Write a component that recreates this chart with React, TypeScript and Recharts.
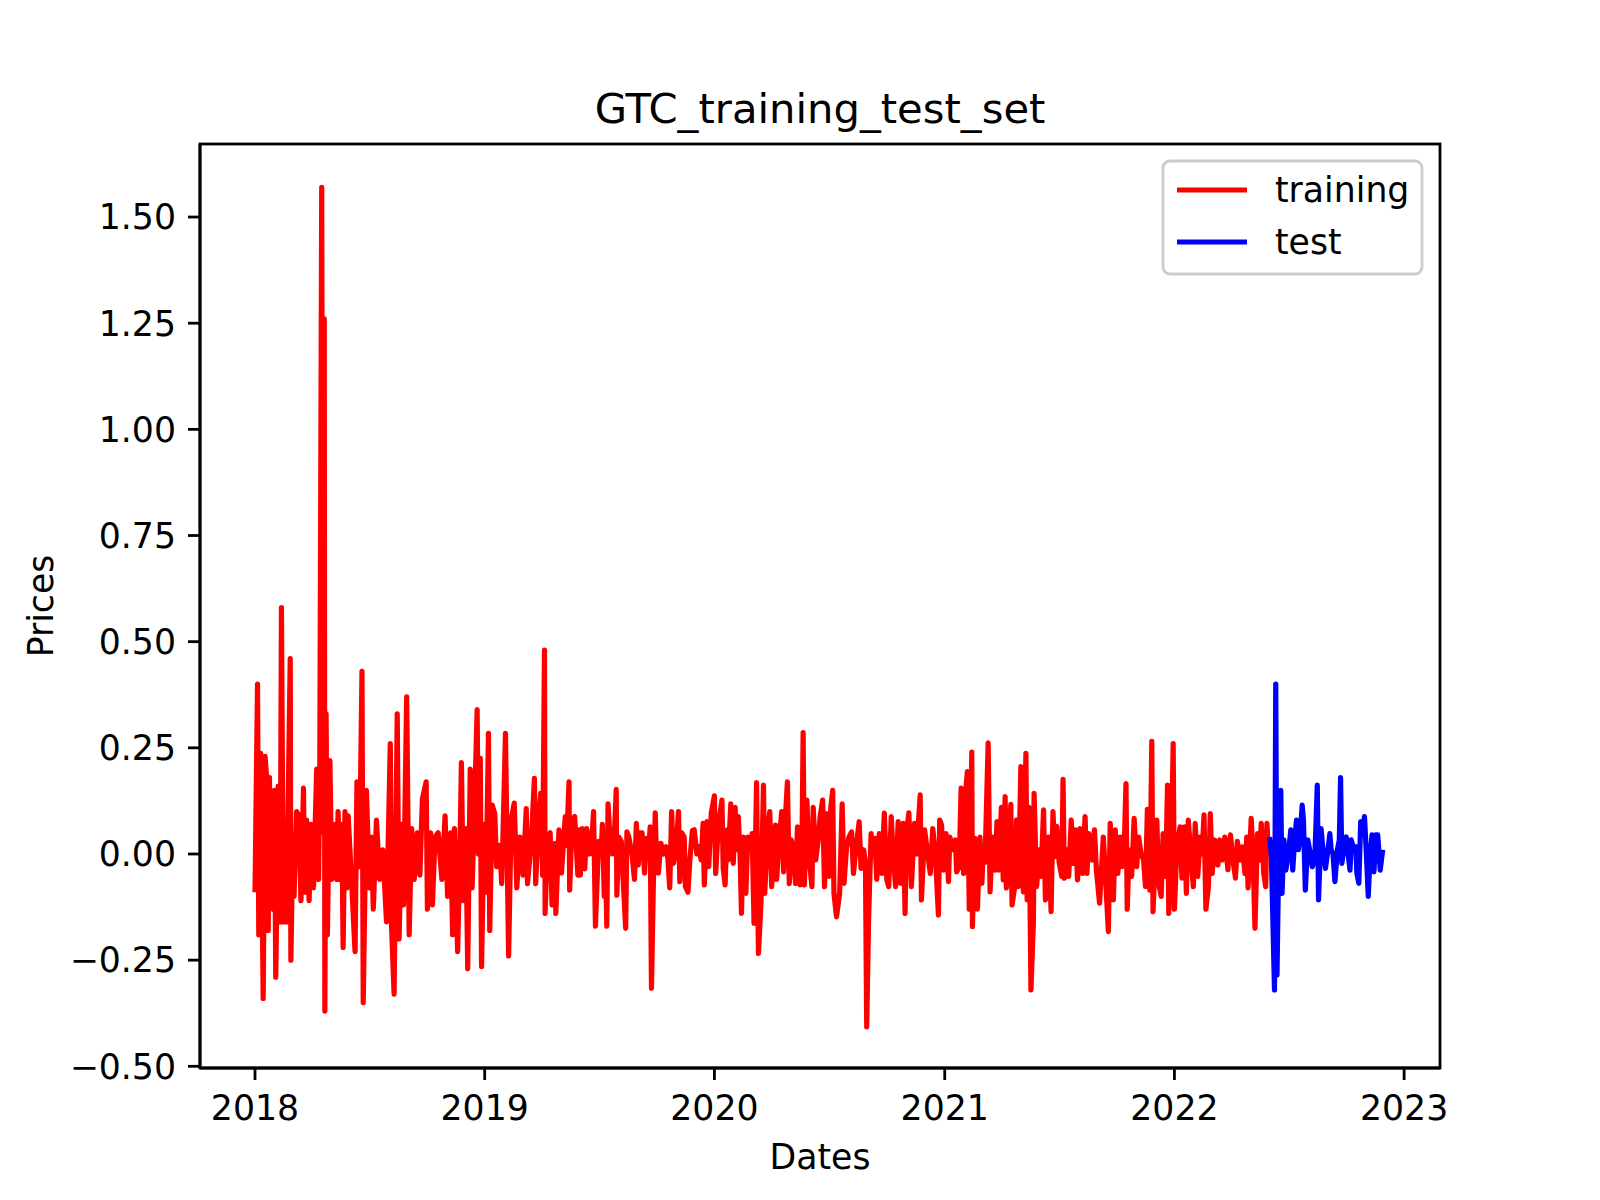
import React from 'react';
import { LineChart, Line, XAxis, YAxis } from 'recharts';

const FONT = '"DejaVu Sans", sans-serif';

const chartTitle = 'GTC_training_test_set';
const xAxisLabel = 'Dates';
const yAxisLabel = 'Prices';
const seriesNames = ['training', 'test'];
const seriesColors = ['#ff0000', '#0000ff'];

// x: days since 2018-01-01
const yearStartDays = [0, 365, 730, 1096, 1461, 1826];
const yearLabels = ['2018', '2019', '2020', '2021', '2022', '2023'];
const yTickValues = [-0.5, -0.25, 0, 0.25, 0.5, 0.75, 1.0, 1.25, 1.5];

// [day offset, value]
const trainingSeries: [number, number][] = [
  [0,-0.09],[4,0.40],[6,-0.19],[9,0.237],[13,-0.34],[16,0.23],[19,0.17],[21,-0.18],[23,0.18],[25,-0.12],[27,0.12],[29,-0.13],[31,0.15],[33,-0.29],[37,0.16],[40,-0.16],[42,0.58],[45,-0.16],[48,0.03],[50,-0.16],[56,0.46],[57,-0.25],[60,0.02],[62,-0.10],[66,0.10],[70,0.09],[73,-0.11],[77,0.155],[79,-0.09],[82,0.08],[86,-0.11],[89,0.07],[93,-0.08],[98,0.20],[101,-0.06],[103,0.21],[106,1.57],[108,0.05],[110,1.26],[111,-0.37],[113,0.33],[115,-0.19],[119,0.22],[122,-0.06],[126,0.04],[128,0.07],[130,-0.06],[132,0.10],[135,-0.06],[138,0.07],[140,-0.22],[143,0.10],[146,-0.08],[148,0.09],[154,-0.08],[159,-0.23],[162,0.17],[166,-0.03],[170,0.43],[172,-0.35],[177,0.15],[182,-0.08],[185,0.04],[188,-0.13],[193,0.08],[198,-0.06],[203,0.01],[209,-0.16],[215,0.26],[217,-0.17],[221,-0.33],[226,0.33],[229,-0.20],[233,0.07],[236,-0.12],[241,0.37],[245,-0.19],[249,0.06],[253,-0.06],[258,0.05],[262,-0.05],[266,0.13],[272,0.17],[274,-0.13],[279,0.05],[282,-0.12],[286,0.04],[291,0.05],[297,-0.06],[302,0.09],[306,-0.10],[311,0.05],[314,-0.19],[317,0.06],[322,-0.23],[326,0.04],[328,0.215],[331,-0.11],[335,0.06],[338,-0.27],[342,0.20],[345,-0.08],[349,0.12],[353,0.34],[355,0.0],[358,0.225],[360,-0.265],[364,0.07],[367,-0.09],[371,0.284],[373,-0.18],[377,0.115],[381,0.095],[384,-0.03],[389,0.02],[392,-0.07],[395,0.10],[398,0.284],[403,-0.24],[407,0.08],[412,0.12],[416,-0.08],[421,0.04],[426,-0.05],[431,0.107],[433,-0.07],[439,0.03],[444,0.178],[446,-0.07],[450,0.065],[454,0.143],[457,-0.05],[460,0.48],[461,-0.14],[465,0.04],[469,0.05],[472,-0.12],[477,0.025],[478,-0.14],[483,0.057],[487,-0.045],[493,0.088],[495,0.02],[499,0.17],[500,-0.085],[504,0.08],[508,0.088],[513,-0.05],[515,0.057],[517,-0.05],[520,0.06],[524,-0.035],[527,0.06],[532,0.0],[535,0.03],[538,0.10],[541,-0.17],[546,0.03],[550,0.0],[552,0.07],[555,-0.10],[557,-0.01],[559,-0.17],[561,0.118],[564,0.04],[568,0.0],[571,0.04],[574,0.152],[575,-0.097],[578,0.04],[582,0.03],[585,-0.06],[589,-0.175],[591,0.052],[594,0.04],[599,0.0],[603,-0.06],[606,0.072],[609,-0.026],[612,0.05],[615,0.05],[619,-0.045],[622,0.037],[625,0.0],[628,0.064],[630,-0.316],[633,-0.07],[636,0.097],[638,-0.014],[641,-0.045],[645,0.025],[649,0.0],[653,0.017],[656,-0.01],[659,-0.08],[662,0.10],[665,-0.022],[669,0.01],[673,0.10],[675,-0.065],[678,0.05],[682,0.04],[684,-0.077],[688,-0.09],[691,-0.014],[695,0.055],[698,0.057],[702,0.0],[705,0.017],[709,-0.014],[712,0.072],[714,-0.073],[718,0.076],[721,-0.03],[725,0.096],[730,0.137],[732,-0.046],[736,0.064],[742,0.127],[744,-0.034],[747,-0.073],[750,0.057],[752,-0.014],[756,0.118],[760,-0.022],[763,0.11],[765,0.01],[768,0.088],[771,-0.014],[773,-0.14],[776,0.04],[780,-0.093],[783,0.04],[787,0.01],[790,0.048],[793,-0.163],[797,0.168],[800,-0.234],[804,-0.116],[808,0.162],[810,-0.093],[815,0.064],[818,0.10],[821,-0.077],[824,0.01],[827,0.068],[829,-0.06],[832,0.017],[837,0.10],[840,-0.042],[842,0.064],[846,0.17],[849,-0.07],[852,0.033],[855,0.017],[859,-0.07],[862,0.064],[866,-0.073],[869,0.0],[871,0.286],[873,-0.073],[877,0.127],[880,0.0],[885,-0.077],[887,0.11],[891,-0.014],[895,0.033],[898,0.088],[902,0.127],[905,-0.077],[908,0.095],[912,-0.053],[915,0.11],[918,0.15],[920,-0.093],[924,-0.148],[929,-0.093],[933,0.118],[936,-0.069],[940,0.017],[944,0.04],[948,0.052],[951,-0.046],[954,0.0],[960,0.076],[963,-0.034],[967,0.01],[970,-0.02],[972,-0.407],[975,-0.155],[979,0.048],[982,0.0],[985,0.037],[988,-0.06],[992,0.048],[996,-0.046],[1000,0.096],[1004,-0.061],[1007,-0.077],[1011,0.088],[1014,0.0],[1018,-0.077],[1022,0.076],[1026,-0.069],[1030,0.072],[1033,-0.14],[1035,0.048],[1039,0.097],[1043,-0.077],[1048,0.072],[1051,0.0],[1057,0.139],[1059,-0.108],[1064,0.057],[1069,0.0],[1073,-0.046],[1077,0.06],[1081,0.0],[1086,-0.144],[1088,0.08],[1091,0.068],[1094,-0.038],[1098,0.048],[1102,-0.065],[1104,0.04],[1110,0.01],[1113,0.033],[1115,-0.042],[1119,-0.03],[1122,0.155],[1126,-0.046],[1128,0.127],[1132,0.194],[1135,-0.13],[1139,0.24],[1140,-0.171],[1144,0.037],[1148,-0.13],[1152,0.04],[1155,-0.069],[1157,0.0],[1160,-0.02],[1165,0.262],[1168,-0.089],[1172,0.04],[1176,-0.038],[1179,0.076],[1182,-0.038],[1186,0.11],[1189,-0.061],[1192,0.135],[1194,-0.08],[1197,-0.014],[1201,0.117],[1203,-0.12],[1208,-0.069],[1210,0.08],[1213,-0.077],[1217,0.206],[1221,-0.089],[1225,0.237],[1227,-0.108],[1230,0.11],[1233,-0.32],[1237,-0.155],[1238,0.143],[1242,-0.077],[1246,0.01],[1249,-0.053],[1253,0.104],[1256,-0.108],[1261,0.04],[1265,-0.136],[1268,0.1],[1271,-0.006],[1274,0.065],[1278,-0.022],[1282,-0.053],[1284,0.176],[1286,-0.057],[1290,0.01],[1293,-0.053],[1297,0.08],[1300,-0.022],[1304,0.057],[1307,-0.061],[1311,0.06],[1315,-0.046],[1319,0.088],[1322,-0.046],[1325,0.048],[1330,-0.014],[1334,0.057],[1337,-0.038],[1342,-0.116],[1348,0.04],[1352,-0.069],[1356,-0.183],[1359,0.072],[1364,-0.108],[1367,0.057],[1371,-0.046],[1375,0.04],[1378,-0.03],[1381,0.0],[1384,0.166],[1386,-0.13],[1389,0.01],[1393,-0.053],[1397,0.084],[1401,-0.03],[1404,0.04],[1408,0.0],[1412,-0.014],[1415,-0.077],[1418,0.105],[1422,-0.085],[1425,0.265],[1427,-0.136],[1433,0.08],[1436,-0.069],[1440,-0.1],[1443,0.048],[1447,-0.053],[1450,0.162],[1452,-0.14],[1456,0.0],[1459,0.26],[1461,-0.13],[1465,0.017],[1470,0.064],[1473,-0.057],[1477,0.064],[1480,-0.093],[1483,0.08],[1487,0.0],[1491,-0.077],[1494,0.072],[1498,-0.053],[1502,0.04],[1505,0.0],[1508,0.092],[1511,-0.13],[1515,-0.077],[1518,0.095],[1521,-0.046],[1525,0.033],[1530,-0.026],[1533,0.033],[1537,-0.014],[1541,0.04],[1546,-0.037],[1550,0.045],[1554,-0.014],[1558,-0.057],[1561,0.03],[1565,-0.014],[1569,0.017],[1573,-0.046],[1576,0.04],[1578,-0.08],[1583,0.084],[1586,-0.014],[1589,-0.175],[1593,0.048],[1596,-0.014],[1599,0.072],[1603,-0.046],[1606,-0.077],[1608,0.072],[1611,-0.006],
];

const testSeries: [number, number][] = [
  [1612,0.04],[1615,0.0],[1620,-0.32],[1622,0.40],[1624,-0.285],[1626,-0.077],[1630,0.15],[1632,-0.093],[1635,0.033],[1638,-0.038],[1642,0.0],[1646,0.057],[1649,-0.038],[1652,0.033],[1655,0.08],[1658,0.01],[1661,0.048],[1664,0.115],[1666,0.08],[1669,-0.085],[1673,0.033],[1677,0.0],[1680,-0.03],[1684,-0.014],[1688,0.162],[1690,-0.108],[1694,0.06],[1697,0.01],[1701,-0.034],[1705,0.01],[1708,0.048],[1710,0.01],[1713,0.0],[1716,-0.065],[1720,0.01],[1723,0.033],[1725,0.18],[1727,-0.022],[1730,0.01],[1734,0.04],[1737,0.0],[1740,-0.038],[1742,0.033],[1746,0.01],[1749,0.017],[1751,-0.046],[1754,-0.069],[1757,0.076],[1760,0.048],[1763,0.088],[1766,0.0],[1769,-0.10],[1772,0.0],[1775,0.045],[1778,-0.042],[1781,0.045],[1784,0.045],[1788,-0.038],[1792,0.01],
];

const X_DOMAIN: [number, number] = [-87.4, 1883];
const Y_DOMAIN: [number, number] = [-0.504, 1.672];

const trainingData = trainingSeries.map(([day, value]) => ({ day, value }));
const testData = testSeries.map(([day, value]) => ({ day, value }));

const fmtY = (v: number) => (v < 0 ? '\u2212' + Math.abs(v).toFixed(2) : v.toFixed(2));
const fmtX = (v: number) => {
  const i = yearStartDays.indexOf(v);
  return i >= 0 ? yearLabels[i] : '';
};

const TICK_FONT = 34.7;

export default function App() {
  return (
    <div style={{ position: 'absolute', left: 0, top: 0, width: 1600, height: 1200, background: '#fff' }}>
      <LineChart
        width={1600}
        height={1200}
        margin={{ top: 144, right: 160, bottom: 52, left: 90 }}
        style={{ fontFamily: FONT }}
      >
        <XAxis
          dataKey="day"
          type="number"
          domain={X_DOMAIN}
          allowDataOverflow
          ticks={yearStartDays}
          interval={0}
          tickFormatter={fmtX}
          height={80}
          tickSize={12}
          tickMargin={15}
          axisLine={{ stroke: '#000', strokeWidth: 2.8 }}
          tickLine={{ stroke: '#000', strokeWidth: 2.8 }}
          tick={{ fill: '#000', fontSize: TICK_FONT, fontFamily: FONT }}
        />
        <YAxis
          type="number"
          domain={Y_DOMAIN}
          allowDataOverflow
          ticks={yTickValues}
          interval={0}
          tickFormatter={fmtY}
          width={110}
          tickSize={12}
          tickMargin={12}
          axisLine={{ stroke: '#000', strokeWidth: 2.8 }}
          tickLine={{ stroke: '#000', strokeWidth: 2.8 }}
          tick={{ fill: '#000', fontSize: TICK_FONT, fontFamily: FONT }}
        />
        <Line
          data={trainingData}
          dataKey="value"
          name={seriesNames[0]}
          stroke={seriesColors[0]}
          strokeWidth={5.2}
          strokeLinejoin="round"
          dot={false}
          activeDot={false}
          isAnimationActive={false}
        />
        <Line
          data={testData}
          dataKey="value"
          name={seriesNames[1]}
          stroke={seriesColors[1]}
          strokeWidth={5.2}
          strokeLinejoin="round"
          dot={false}
          activeDot={false}
          isAnimationActive={false}
        />
      </LineChart>
      <svg
        width={1600}
        height={1200}
        style={{ position: 'absolute', left: 0, top: 0, pointerEvents: 'none', fontFamily: FONT }}
      >
        <rect x={200} y={144} width={1240} height={924} fill="none" stroke="#000" strokeWidth={2.8} />
        <text x={820} y={123} textAnchor="middle" fontSize={41.7} fill="#000">{chartTitle}</text>
        <text x={820} y={1169} textAnchor="middle" fontSize={TICK_FONT} fill="#000">{xAxisLabel}</text>
        <text
          x={53}
          y={606}
          textAnchor="middle"
          fontSize={TICK_FONT}
          fill="#000"
          transform="rotate(-90 53 606)"
        >
          {yAxisLabel}
        </text>
        <g>
          <rect
            x={1163}
            y={161}
            width={259}
            height={113}
            rx={7}
            ry={7}
            fill="#fff"
            fillOpacity={0.8}
            stroke="#cccccc"
            strokeWidth={2.8}
          />
          {seriesNames.map((name, i) => (
            <g key={name}>
              <line
                x1={1177}
                x2={1247}
                y1={190 + i * 52}
                y2={190 + i * 52}
                stroke={seriesColors[i]}
                strokeWidth={5.2}
              />
              <text x={1275} y={202 + i * 52} fontSize={TICK_FONT} fill="#000">{name}</text>
            </g>
          ))}
        </g>
      </svg>
    </div>
  );
}
